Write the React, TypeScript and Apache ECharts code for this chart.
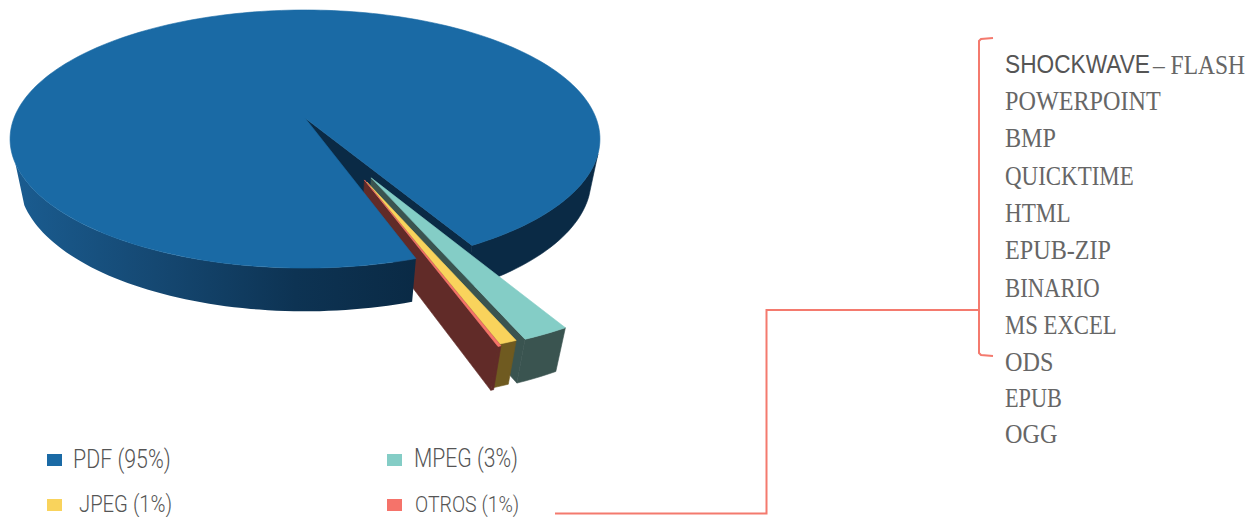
import React, { useEffect, useRef } from "react";
import * as echarts from "echarts";

// Legend text as printed in the picture
const categories = ["PDF", "MPEG", "JPEG", "OTROS"];
const labelPercents = [95, 3, 1, 1];
// Slice shares as actually drawn in the picture (the wedges are thinner than their labels)
const drawnShares = [97.03, 2.05, 0.78, 0.14];
const formatList = [
  "POWERPOINT", "BMP", "QUICKTIME", "HTML", "EPUB-ZIP", "BINARIO",
  "MS EXCEL", "ODS", "EPUB", "OGG",
];
const firstFormat = ["SHOCKWAVE", "– FLASH"];

// Style
const topColors = ["#1a6aa5", "#84cdc6", "#f9d35c", "#f5736a"];
const wallColors = ["#0a2a45", "#3a5450", "#6f5a20", "#612b28"];
const lineColor = "#f47a6e";

// Camera and slice geometry
const AX = 305, AY = 118, RX = 291, RY = 125.6, P = 0.163, Q = 0.03, K = 42;
const START_DEG = 60.5;
const RIM_RIGHT_DEG = 16;
const RIM_LEFT_DEG = 160;
const explodeDir = [0, 64.5, 67.4, 67.5];
const explodeDist = [0, 0.49, 0.51, 0.494];
const sliceRadius = [1, 1, 0.975, 1];

const rad = (d: number) => (d * Math.PI) / 180;
function project(u: number, v: number, z: number) {
  const w = 1 - P * v + Q * z;
  return [AX + (RX * u) / w, AY + (RY * v + K * z) / w];
}

// Slice spans, accumulated clockwise from MPEG so that PDF closes the circle
function spans() {
  const total = drawnShares.reduce((a, b) => a + b, 0);
  const res: [number, number][] = [[0, 0], [0, 0], [0, 0], [0, 0]];
  let a = START_DEG;
  for (const i of [1, 2, 3, 0]) {
    const s = (drawnShares[i] / total) * 360;
    res[i] = [a, a + s];
    a += s;
  }
  return res;
}

function arc(a0: number, a1: number, ox: number, oy: number, z: number, r = 1) {
  const n = Math.max(2, Math.ceil(Math.abs(a1 - a0) / 1.5));
  const pts: number[][] = [];
  for (let i = 0; i <= n; i++) {
    const a = rad(a0 + ((a1 - a0) * i) / n);
    pts.push(project(ox + r * Math.cos(a), oy + r * Math.sin(a), z));
  }
  return pts;
}

function poly(api: any, pts: number[][], fill: any, z2: number) {
  const solid = typeof fill === "string";
  return {
    type: "polygon",
    z2,
    silent: true,
    shape: { points: pts.map((p) => api.coord(p)) },
    style: solid ? { fill, stroke: fill, lineWidth: 0.6 } : { fill, stroke: null },
  };
}

function renderSlice(index: number) {
  return (_params: any, api: any) => {
    const [a0, a1] = spans()[index];
    const children: any[] = [];
    if (index === 0) {
      const wall = wallColors[0];
      // right part of the rim, and the wall of the notch: behind the wedges
      const rightTop = arc(RIM_RIGHT_DEG, START_DEG, 0, 0, 0);
      const rightBot = arc(RIM_RIGHT_DEG, START_DEG, 0, 0, 1).reverse();
      children.push(poly(api, [...rightTop, ...rightBot], wall, 1));
      children.push(
        poly(
          api,
          [
            project(0, 0, 0),
            arc(START_DEG, START_DEG, 0, 0, 0)[0],
            arc(START_DEG, START_DEG, 0, 0, 1)[0],
            project(0, 0, 1),
          ],
          wall,
          2
        )
      );
      // left part of the rim, in front of the wedges
      const leftTop = arc(a0, RIM_LEFT_DEG, 0, 0, 0);
      const leftBot = arc(a0, RIM_LEFT_DEG, 0, 0, 1).reverse();
      const grad = new echarts.graphic.LinearGradient(1, 0, 0, 0, [
        { offset: 0, color: "#0a2a45" },
        { offset: 0.3, color: "#0d3353" },
        { offset: 0.65, color: "#154872" },
        { offset: 1, color: "#1a5c90" },
      ]);
      children.push(poly(api, [...leftTop, ...leftBot], grad, 20));
      children.push(poly(api, [project(0, 0, 0), ...arc(a0, a1, 0, 0, 0)], topColors[0], 21));
    } else {
      const d = rad(explodeDir[index]);
      const ox = explodeDist[index] * Math.cos(d);
      const oy = explodeDist[index] * Math.sin(d);
      const r = sliceRadius[index];
      const base = 3 + index * 3;
      const apexT = project(ox, oy, 0);
      const apexB = project(ox, oy, 1);
      const edgeT = arc(a1, a1, ox, oy, 0, r)[0];
      const edgeB = arc(a1, a1, ox, oy, 1, r)[0];
      children.push(poly(api, [apexT, edgeT, edgeB, apexB], wallColors[index], base));
      children.push(
        poly(
          api,
          [...arc(a0, a1, ox, oy, 0, r), ...arc(a0, a1, ox, oy, 1, r).reverse()],
          wallColors[index],
          base + 1
        )
      );
      children.push(poly(api, [apexT, ...arc(a0, a1, ox, oy, 0, r)], topColors[index], base + 2));
    }
    return { type: "group", children };
  };
}

const legendName = (i: number) => `${categories[i]} (${labelPercents[i]}%)`;
const legendSpots = [
  { left: 47, top: 454, tx: 73, ty: 459, sx: 0.855, size: 25 },
  { left: 387, top: 454, tx: 414, ty: 459, sx: 0.846, size: 25 },
  { left: 47, top: 499, tx: 79, ty: 503.5, sx: 0.844, size: 24 },
  { left: 387, top: 499, tx: 415, ty: 505, sx: 0.886, size: 22 },
];
const listX = 1005;
const listRowY = [101, 138, 176, 213, 250, 288, 325, 362, 398, 434];
const listScale = [0.895, 0.895, 0.85, 0.857, 0.895, 0.842, 0.842, 0.895, 0.824, 0.895];
const serif = "Liberation Serif";

export default function App() {
  const ref = useRef<HTMLDivElement>(null);
  useEffect(() => {
    const chart = echarts.init(ref.current!, undefined, { renderer: "svg" });
    const text = (t: string, x: number, y: number, font: string, size: number, sx: number, fill: string, weight: any = 400) => ({
      type: "text",
      x,
      y,
      scaleX: sx,
      silent: true,
      style: { text: t, fontFamily: font, fontSize: size, fontWeight: weight, fill, verticalAlign: "middle" },
    });
    chart.setOption({
      animation: false,
      backgroundColor: "#ffffff",
      grid: { left: 0, right: 0, top: 0, bottom: 0 },
      xAxis: { type: "value", min: 0, max: 1249, show: false },
      yAxis: { type: "value", min: 0, max: 517, inverse: true, show: false },
      legend: categories.map((_, i) => ({
        left: legendSpots[i].left,
        top: legendSpots[i].top,
        padding: 0,
        data: [legendName(i)],
        icon: "rect",
        itemWidth: 15,
        itemHeight: 12,
        selectedMode: false,
        formatter: () => "",
      })),
      series: categories.map((_, i) => ({
        type: "custom",
        name: legendName(i),
        coordinateSystem: "cartesian2d",
        clip: false,
        itemStyle: { color: topColors[i] },
        data: [[drawnShares[i], labelPercents[i]]],
        encode: { x: 0, y: 1 },
        renderItem: renderSlice(i),
      })),
      graphic: {
        elements: [
          {
            type: "polyline",
            silent: true,
            shape: { points: [[555, 513.5], [766.5, 513.5], [766.5, 310], [979, 310]] },
            style: { stroke: lineColor, lineWidth: 2, fill: null },
          },
          {
            type: "polyline",
            silent: true,
            shape: { points: [[993, 38], [981, 39], [979, 41], [979, 353], [981, 355], [993, 356]] },
            style: { stroke: lineColor, lineWidth: 2, fill: null },
          },
          ...categories.map((_, i) =>
            text(legendName(i), legendSpots[i].tx, legendSpots[i].ty, "Roboto", legendSpots[i].size, legendSpots[i].sx, "#555555", 300)
          ),
          text(firstFormat[0], listX, 64, "Liberation Sans", 26, 0.873, "#555555"),
          text(firstFormat[1], 1153, 64, serif, 27, 0.87, "#666666"),
          ...formatList.map((t, i) => text(t, listX, listRowY[i], serif, 27, listScale[i], "#666666")),
        ],
      },
    });
    return () => chart.dispose();
  }, []);
  return <div ref={ref} style={{ position: "fixed", left: 0, top: 0, width: 1249, height: 517 }} />;
}
